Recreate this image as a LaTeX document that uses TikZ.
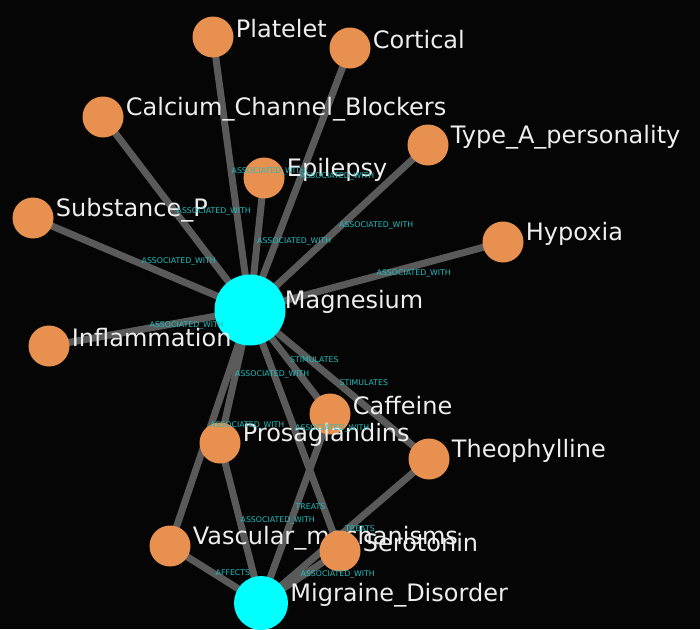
\documentclass[tikz,border=0pt]{standalone}
\usepackage{fontspec}
\setmainfont{DejaVu Sans}
\pgfdeclarelayer{edges}
\pgfsetlayers{edges,main}
\definecolor{bgcol}{HTML}{050505}
\definecolor{termorange}{HTML}{E8904F}
\definecolor{termcyan}{HTML}{00FFFF}
\definecolor{linkgray}{HTML}{5A5A5A}
\definecolor{reltext}{HTML}{22BDBD}
\definecolor{nametext}{HTML}{EEEEEE}

\begin{document}
\begin{tikzpicture}[x=1pt,y=-1pt,
  termnode/.style={circle,fill=termorange,minimum size=41pt,inner sep=0pt},
  hubnode/.style={termnode,fill=termcyan},
  termname/.style={text=nametext,font=\fontsize{24}{27}\selectfont,inner sep=2pt,yshift=8pt},
  linkline/.style={linkgray,line width=7pt},
  relname/.style={text=reltext,font=\fontsize{7.8}{9}\selectfont,anchor=west,inner sep=0pt,yshift=2pt}]
  \begin{pgfonlayer}{edges}
    \fill[bgcol] (0,0) rectangle (700,629);
  \end{pgfonlayer}
  \useasboundingbox (0,0) rectangle (700,629);
  % hubs
  \node[hubnode,minimum size=71pt,label={[termname,label distance=-3pt]0:Magnesium}] (mg) at (250,310) {};
  \node[hubnode,minimum size=54pt,label={[termname]0:Migraine\_Disorder}] (md) at (261,603) {};
  % terms
  \foreach \n/\x/\y/\t in {pl/213/37/Platelet, co/350/48/Cortical,
      ccb/103/117/Calcium\_Channel\_Blockers, ta/428/145/Type\_A\_personality,
      ep/264/178/Epilepsy, sp/33/218/Substance\_P, hy/503/242/Hypoxia,
      inf/49/346/Inflammation, ca/330/414/Caffeine, pr/220/443/Prosaglandins,
      th/429/459/Theophylline, va/170/546/Vascular\_mechanisms, se/340/551/Serotonin}
    \node[termnode,label={[termname]0:\t}] (\n) at (\x,\y) {};
  % links
  \foreach \a/\b/\r in {mg/pl/ASSOCIATED\_WITH, mg/co/ASSOCIATED\_WITH,
      mg/ccb/ASSOCIATED\_WITH, mg/ta/ASSOCIATED\_WITH, mg/ep/ASSOCIATED\_WITH,
      mg/sp/ASSOCIATED\_WITH, mg/hy/ASSOCIATED\_WITH, mg/inf/ASSOCIATED\_WITH,
      mg/ca/STIMULATES, mg/th/STIMULATES, mg/pr/ASSOCIATED\_WITH,
      mg/va/ASSOCIATED\_WITH, mg/se/ASSOCIATED\_WITH, ca/md/TREATS,
      pr/md/ASSOCIATED\_WITH, th/md/TREATS, va/md/AFFECTS, se/md/ASSOCIATED\_WITH}{
    \begin{pgfonlayer}{edges}
      \draw[linkline] (\a.center) -- (\b.center);
    \end{pgfonlayer}
    \path (\a.center) -- node[relname] {\r} (\b.center);
  }
\end{tikzpicture}
\end{document}
